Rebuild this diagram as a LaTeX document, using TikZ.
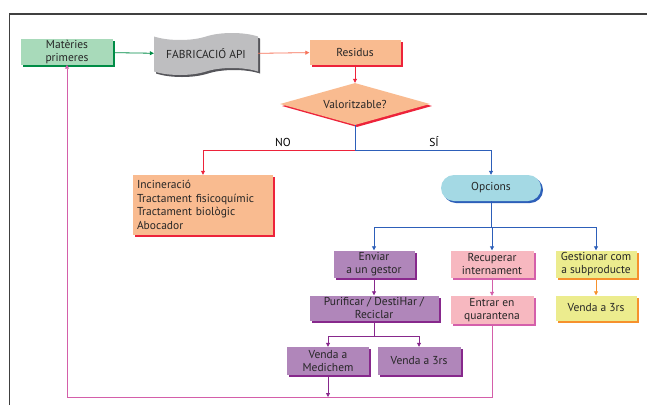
\documentclass[tikz,border=0pt]{standalone}
\usepackage{fontspec}
\setmainfont{PT Sans}
\usepackage{xcolor}
\usepackage{tikz}
\usetikzlibrary{arrows.meta, shapes.geometric, shapes.symbols, shadows}
\definecolor{corVerd}{RGB}{168,218,186}
\definecolor{corVerdF}{RGB}{0,140,70}
\definecolor{corGris}{RGB}{190,190,192}
\definecolor{corGrisF}{RGB}{85,85,90}
\definecolor{corTaronja}{RGB}{249,187,144}
\definecolor{corVermell}{RGB}{237,35,58}
\definecolor{corSalmo}{RGB}{246,115,90}
\definecolor{corCian}{RGB}{164,217,228}
\definecolor{corBlau}{RGB}{45,95,185}
\definecolor{corLila}{RGB}{176,134,186}
\definecolor{corLilaF}{RGB}{135,40,140}
\definecolor{corRosa}{RGB}{247,184,192}
\definecolor{corMagenta}{RGB}{212,95,170}
\definecolor{corGroc}{RGB}{236,236,142}
\definecolor{corAmbre}{RGB}{246,145,45}

\begin{document}
\begin{tikzpicture}[x=1pt, y=-1pt, font=\fontsize{11.5}{12.5}\selectfont,
          caixa/.style={rectangle, inner sep=1pt, align=center, text=black!85,
            minimum width=82pt, minimum height=27pt},
          ombra/.style={drop shadow={shadow xshift=2pt, shadow yshift=-2pt, fill=#1, opacity=1}},
          verd/.style={caixa, fill=corVerd, ombra=corVerdF},
          taronja/.style={caixa, fill=corTaronja, ombra=corVermell},
          lila/.style={caixa, fill=corLila, ombra=corLilaF},
          rosa/.style={caixa, fill=corRosa, ombra=corMagenta},
          groc/.style={caixa, fill=corGroc, ombra=corAmbre},
          link/.style={-{Triangle[length=4pt, width=4pt]}, line width=0.8pt, #1},
          tram/.style={line width=0.8pt, #1}]
        \useasboundingbox (0,0) rectangle (647,405);
        \draw[line width=1.1pt, black!75] (9.5,405) -- (9.5,14) -- (647,14);
        \node[verd, minimum width=92pt, minimum height=25pt] (mat) at (67,52) {Matèries\\primeres};
        \node[tape, fill=corGris, ombra=corGrisF, minimum width=104pt, minimum height=42pt,
          tape bend height=7pt, text=black!85] (fab) at (206,54) {FABRICACIÓ API};
        \node[taronja, minimum width=91pt, minimum height=25pt] (res) at (355,52) {Residus};
        \node[diamond, fill=corTaronja, ombra=corVermell, minimum width=150pt, minimum height=42pt,
          inner sep=0pt, aspect=3.5, text=black!85] (val) at (355,104) {Valoritzable?};
        \node[taronja, align=left, text width=132pt, minimum width=140pt, minimum height=60pt,
          inner sep=4pt, font=\fontsize{11.5}{13.5}\selectfont] (inc) at (203,205)
          {Incineració\\Tractament fisicoquímic\\Tractament biològic\\Abocador};
        \node[rectangle, rounded corners=13pt, fill=corCian, ombra=corBlau, minimum width=100pt,
          minimum height=26pt, text=black!85] (opc) at (491,188) {Opcions};
        \node (no) at (283,142) {NO};
        \node (si) at (434,142) {SÍ};
        \node[lila, minimum width=81pt] (env) at (374,264) {Enviar\\a un gestor};
        \node[rosa, minimum width=83pt] (rec) at (492,264) {Recuperar\\internament};
        \node[groc, minimum width=81pt] (ges) at (596,264) {Gestionar com\\a subproducte};
        \node[lila, minimum width=129pt, minimum height=25pt] (pur) at (374,308) {Purificar / DestiHar /\\Reciclar};
        \node[rosa, minimum width=83pt, minimum height=28pt] (quar) at (492,310) {Entrar en\\quarantena};
        \node[groc, minimum width=81pt, minimum height=25pt] (v3g) at (596,308) {Venda a 3rs};
        \node[lila, minimum width=82pt, minimum height=28pt] (vmed) at (328,361) {Venda a\\Medichem};
        \node[lila, minimum width=83pt, minimum height=28pt] (v3l) at (419,361) {Venda a 3rs};
        \coordinate (bifur) at (355,150);
        \coordinate (opcs) at (491,227);
        \coordinate (purs) at (374,336);
        \coordinate (base) at (492,397);
        \draw[link=corVerdF] (mat) -- (fab);
        \draw[link=corSalmo] (fab) -- (res);
        \draw[link=corVermell] (res) -- (val);
        \draw[tram=corBlau] (val.south) -- (bifur);
        \draw[link=corVermell] (bifur) -| (inc.north);
        \draw[link=corBlau] (bifur) -| (opc.north);
        \draw[tram=corBlau] (opc.south) -- (opcs);
        \foreach \d in {env,rec,ges}{\draw[link=corBlau] (opcs) -| (\d.north);}
        \draw[link=corLilaF] (env) -- (pur);
        \draw[tram=corLilaF] (pur.south) -- (purs);
        \foreach \d in {vmed,v3l}{\draw[link=corLilaF] (purs) -| (\d.north);}
        \draw[link=corMagenta] (rec) -- (quar);
        \draw[link=corAmbre] (ges) -- (v3g);
        \draw[link=corMagenta] (quar.south) -- (base) -| (mat.south);
        \draw[link=corLilaF] (vmed.south) -- (vmed.south |- base);
      \end{tikzpicture}
\end{document}
